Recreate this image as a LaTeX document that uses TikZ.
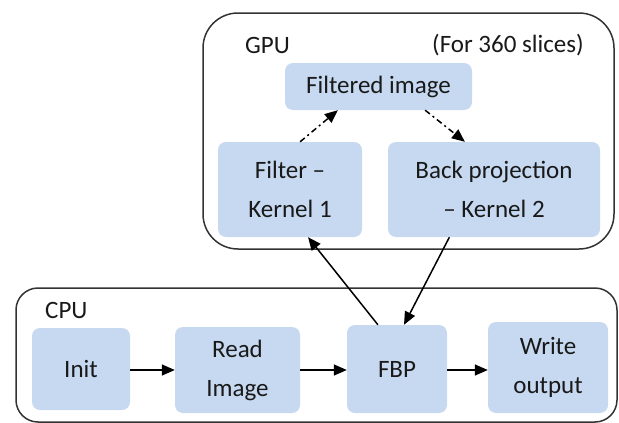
\documentclass[tikz,border=0pt]{standalone}
\usepackage{fontspec}
\setmainfont{Carlito}
\usetikzlibrary{arrows.meta,calc}
\definecolor{boxblue}{RGB}{198,217,240}
\definecolor{inkgray}{RGB}{25,25,25}
\newcommand{\boxfont}{\fontsize{25}{39}\selectfont}
\begin{document}
\begin{tikzpicture}[x=1pt,y=-1pt,
  box/.style={fill=boxblue, rounded corners=8pt, inner sep=0pt, align=center,
    font=\boxfont, text=inkgray},
  group/.style={draw=black!80, line width=1.5pt, inner sep=0pt},
  lbl/.style={font=\boxfont, text=inkgray, inner sep=0pt},
  flow/.style={-{Triangle[length=13pt,width=11pt]}, line width=1.5pt},
  dataflow/.style={flow, dash pattern=on 6pt off 3.5pt on 2pt off 3.5pt}]
\useasboundingbox (0,0) rectangle (619,423);

% containers
\node[group, rounded corners=35pt, minimum width=411pt, minimum height=236pt] (gpu) at (408.5,131) {};
\node[group, rounded corners=22pt, minimum width=601pt, minimum height=134pt] (cpu) at (316.5,355) {};

% container titles
\node[lbl, anchor=west] (gputitle) at (245,45) {GPU};
\node[lbl, anchor=east] (slices) at (584,45) {(For 360 slices)};
\node[lbl, anchor=west] (cputitle) at (45,310) {CPU};

% GPU blocks
\node[box, minimum width=187pt, minimum height=47pt] (filtered) at (378.5,86.5) {Filtered image};
\node[box, minimum width=144pt, minimum height=95pt] (filter) at (290,189.5) {Filter --\\Kernel 1};
\node[box, minimum width=212pt, minimum height=95pt] (backproj) at (494,189.5) {Back projection\\-- Kernel 2};

% CPU blocks
\node[box, minimum width=98pt, minimum height=82pt] (init) at (81,369) {Init};
\node[box, minimum width=125pt, minimum height=86pt] (read) at (237.5,370) {Read\\Image};
\node[box, minimum width=100pt, minimum height=88pt] (fbp) at (397,369) {FBP};
\node[box, minimum width=120pt, minimum height=91pt] (write) at (548,367.5) {Write\\output};

% CPU pipeline
\draw[flow] (init.east |- 0,370) -- (read.west |- 0,370);
\draw[flow] (read.east |- 0,370) -- (fbp.west |- 0,370);
\draw[flow] (fbp.east |- 0,370) -- (write.west |- 0,370);

% CPU <-> GPU
\draw[flow] ($(fbp.north west)!0.31!(fbp.north east)$) -- ($(filter.south west)!0.625!(filter.south east)$);
\draw[flow] ($(backproj.south west)!0.29!(backproj.south east)$) -- ($(fbp.north west)!0.57!(fbp.north east)$);

% data exchange on the GPU
\draw[dataflow] ($(filter.north west)!0.57!(filter.north east)$) -- ($(filtered.south west)!0.283!(filtered.south east)$);
\draw[dataflow] ($(filtered.south west)!0.749!(filtered.south east)$) -- ($(backproj.north west)!0.363!(backproj.north east)$);
\end{tikzpicture}
\end{document}
